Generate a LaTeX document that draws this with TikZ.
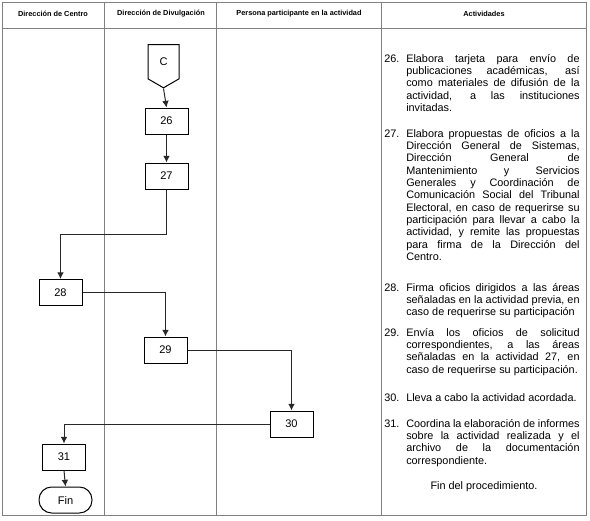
\documentclass[tikz,border=0pt]{standalone}
\usepackage{fontspec}
\setmainfont{Liberation Sans}
\usetikzlibrary{arrows.meta,shapes.symbols}

\tikzset{
  lane/.style={draw={rgb, 255:red, 128; green, 128; blue, 128 }, line width=0.75},
  lanehead/.style={inner sep=0.75pt, font=\bfseries\fontsize{5.5}{6.6}\selectfont},
  stepbox/.style={draw, line width=0.75, minimum width=32.25pt, minimum height=19.5pt, inner sep=0pt, font=\fontsize{8.3}{9.6}\selectfont},
  flow/.style={draw={rgb, 255:red, 40; green, 40; blue, 40 }, line width=0.75, -{Latex[length=5pt,width=5pt]}},
  actxt/.style={anchor=north west, inner sep=0pt}
}
\newcommand{\actitem}[2]{\parbox[t]{146.5pt}{\fontsize{8.15}{9.25}\selectfont\hyphenpenalty=10000 \tolerance=10000 \noindent\hangindent=16.5pt\hangafter=1 \strut\makebox[16.5pt][l]{#1}#2}}

\begin{document}
\begin{tikzpicture}[x=0.75pt,y=0.75pt,yscale=-1,xscale=1]
\useasboundingbox (0,0) rectangle (590,521);

%Shape: Rectangle [id:frame]
\draw [lane] (2,2) rectangle (586,515);
%Straight Lines [id:headrow]
\draw [lane] (2,28) -- (586,28);
%Straight Lines [id:lanes]
\draw [lane] (104,2) -- (104,515);
\draw [lane] (216,2) -- (216,515);
\draw [lane] (381,2) -- (381,515);

% Text Node
\node (hcentro) at (53,14) [lanehead] {Dirección de Centro};
% Text Node
\node (hdivul) at (161,14) [lanehead] {Dirección de Divulgación};
% Text Node
\node (hpers) at (299,14) [lanehead] {Persona participante en la actividad};
% Text Node
\node (hact) at (484,14) [lanehead] {Actividades};

%Shape: Off-page connector [id:conC]
\node (c) at (163.5,44) [draw, line width=0.75, shape=signal, signal to=south, signal from=nowhere, signal pointer angle=120, anchor=north, minimum width=23.25pt, minimum height=27.5pt, inner sep=0pt, font=\fontsize{8.3}{9.6}\selectfont] {C};

%Shape: Rectangle [id:steps]
\node (b26) at (166.5,121) [stepbox] {26};
\node (b27) at (166.5,176) [stepbox] {27};
\node (b28) at (60.5,292.5) [stepbox] {28};
\node (b29) at (165.5,350) [stepbox] {29};
\node (b30) at (291.5,424) [stepbox] {30};
\node (b31) at (64,457) [stepbox] {31};
%Shape: Terminal [id:fin]
\node (fin) at (65.5,500) [draw, line width=0.75, rounded corners=9.5pt, minimum width=39.75pt, minimum height=19.5pt, inner sep=0pt, font=\fontsize{8.3}{9.6}\selectfont] {Fin};

%Connectors
\draw [flow] (c.south) -- (b26.north);
\draw [flow] (b26.south) -- (b27.north);
\draw [flow] (b27.south) -- ++(0,45) -| (b28.north);
\draw [flow] (b28.east) -| (b29.north);
\draw [flow] (b29.east) -| (b30.north);
\draw [flow] (b30.west) -| (b31.north);
\draw [flow] (b31.south) -- (fin.north);

% Text Node
\node (a26) at (384,53.4) [actxt] {\actitem{26.}{Elabora tarjeta para envío de\linebreak publicaciones académicas, así\linebreak como materiales de difusión de la\linebreak actividad, a las instituciones\linebreak invitadas.}};
% Text Node
\node (a27) at (384,128.4) [actxt] {\actitem{27.}{Elabora propuestas de oficios a la\linebreak Dirección General de Sistemas,\linebreak Dirección General de\linebreak Mantenimiento y Servicios\linebreak Generales y Coordinación de\linebreak Comunicación Social del Tribunal\linebreak Electoral, en caso de requerirse su\linebreak participación para llevar a cabo la\linebreak actividad, y remite las propuestas\linebreak para firma de la Dirección del\linebreak Centro.}};
% Text Node
\node (a28) at (384,282.4) [actxt] {\actitem{28.}{Firma oficios dirigidos a las áreas\linebreak señaladas en la actividad previa, en\linebreak caso de requerirse su participación}};
% Text Node
\node (a29) at (384,327.4) [actxt] {\actitem{29.}{Envía los oficios de solicitud\linebreak correspondientes, a las áreas\linebreak señaladas en la actividad 27, en\linebreak caso de requerirse su participación.}};
% Text Node
\node (a30) at (384,392.4) [actxt] {\actitem{30.}{Lleva a cabo la actividad acordada.}};
% Text Node
\node (a31) at (384,418.4) [actxt] {\actitem{31.}{Coordina la elaboración de informes\linebreak sobre la actividad realizada y el\linebreak archivo de la documentación\linebreak correspondiente.}};
% Text Node
\node (afin) at (484,487) [inner sep=0pt, font=\fontsize{8.15}{9.25}\selectfont] {Fin del procedimiento.};
\end{tikzpicture}
\end{document}
